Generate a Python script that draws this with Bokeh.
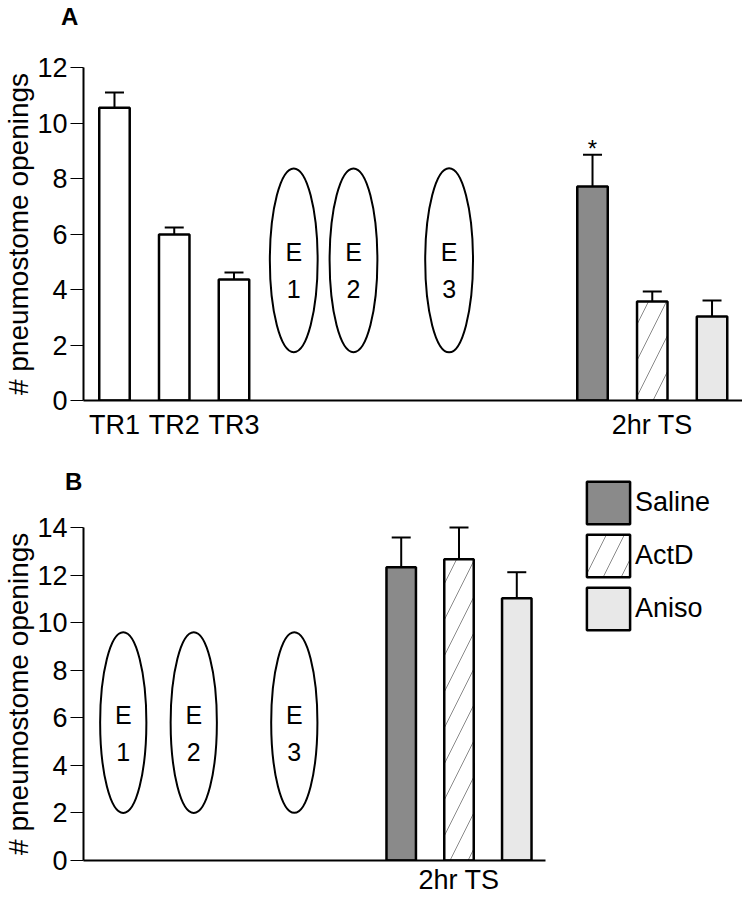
from bokeh.plotting import figure
from bokeh.models import (ColumnDataSource, Whisker, TeeHead, FixedTicker, Div,
                          Legend, LegendItem, Range1d)
from bokeh.layouts import column
from bokeh.embed import file_html
from bokeh.resources import INLINE
from bokeh.core.properties import value

FONT = "Liberation Sans"

# ---------------- data ----------------
# Panel A: training sessions
tr_labels = ["TR1", "TR2", "TR3"]
tr_pos = [0, 1, 2]
tr_mean = [10.55, 5.98, 4.36]
tr_sem = [0.55, 0.25, 0.25]

# treatment groups
groups = ["Saline", "ActD", "Aniso"]
group_fill = ["#8a8a8a", "#ffffff", "#e8e8e8"]
group_hatch = [" ", "/", " "]
ts_label = "2hr TS"

# Panel A: 2hr test session
a_ts_pos = [8, 9, 10]
a_ts_mean = [7.71, 3.57, 3.03]
a_ts_sem = [1.15, 0.36, 0.57]
a_sig = ["*", "", ""]

# Panel B: 2hr test session
b_ts_pos = [5, 6, 7]
b_ts_mean = [12.33, 12.66, 11.03]
b_ts_sem = [1.25, 1.34, 1.09]

# extinction sessions (ellipses)
e_letter = ["E", "E", "E"]
e_num = ["1", "2", "3"]
a_e_pos = [3, 4, 5.6]
b_e_pos = [0.19, 1.41, 3.15]

a_yticks = [0, 2, 4, 6, 8, 10, 12]
b_yticks = [0, 2, 4, 6, 8, 10, 12, 14]
ylabel = "# pneumostome openings"
panel_letters = ["A", "B"]

BAR_W = 0.51
BIG = "27px"
NBSP = "\u00a0"


def letter_div(letter, height, pad_top, pad_left):
    html = ('<div style="font-family:\'Liberation Sans\',Arial,sans-serif;font-size:24px;'
            'font-weight:bold;line-height:24px;color:#000;padding:%dpx 0 0 %dpx;">%s</div>'
            % (pad_top, pad_left, letter))
    return Div(text=html, width=742, height=height, margin=0, styles={"overflow": "visible"})


def base_fig(height, x_range, y_range, top, bottom):
    p = figure(width=742, height=height, x_range=x_range, y_range=y_range,
               output_backend="svg", toolbar_location=None,
               min_border_left=72, min_border_right=0,
               min_border_top=top, min_border_bottom=bottom)
    p.grid.visible = False
    p.outline_line_color = None
    return p


def style_axes(p, yticks, label):
    ya = p.yaxis[0]
    ya.ticker = FixedTicker(ticks=yticks)
    ya.bounds = (yticks[0], yticks[-1])
    ya.axis_label = label
    ya.axis_label_text_font = FONT
    ya.axis_label_text_font_size = "28px"
    ya.axis_label_text_font_style = "normal"
    ya.axis_label_text_color = "black"
    ya.axis_label_standoff = 0
    ya.major_label_text_font = FONT
    ya.major_label_text_font_size = BIG
    ya.major_label_text_color = "black"
    ya.major_label_standoff = 3
    ya.major_tick_out = 13
    ya.major_tick_in = 0
    ya.minor_tick_out = 0
    ya.minor_tick_in = 0
    ya.major_tick_line_width = 1.2
    ya.axis_line_width = 2
    xa = p.xaxis[0]
    xa.major_label_text_font = FONT
    xa.major_label_text_font_size = BIG
    xa.major_label_text_color = "black"
    xa.major_tick_out = 0
    xa.major_tick_in = 0
    xa.minor_tick_out = 0
    xa.minor_tick_in = 0
    xa.axis_line_width = 2


def add_bars(p, xs, means, sems, fills, hatches):
    src = ColumnDataSource(dict(x=xs, top=means, upper=[m + s for m, s in zip(means, sems)],
                                fill=fills, hatch=hatches))
    r = p.vbar(x="x", top="top", bottom=0, width=BAR_W, source=src,
               fill_color="fill", line_color="black", line_width=2.5,
               hatch_pattern="hatch", hatch_color="#8a8a8a", hatch_weight=1, hatch_scale=36)
    w = Whisker(source=src, base="x", lower="top", upper="upper",
                upper_head=TeeHead(size=19, line_width=2, line_color="black"),
                lower_head=None, line_width=2, line_color="black")
    p.add_layout(w)
    return r, src


def add_ellipses(p, xs, yc, h):
    p.ellipse(x=xs, y=[yc] * len(xs), width=0.8, height=h, fill_color=None,
              line_color="black", line_width=2)
    p.text(x=xs, y=[yc] * len(xs), text=e_letter, text_align="center", text_baseline="middle",
           y_offset=-8, text_font=value(FONT), text_font_size="25px", text_color="black")
    p.text(x=xs, y=[yc] * len(xs), text=e_num, text_align="center", text_baseline="middle",
           y_offset=29, text_font=value(FONT), text_font_size="25px", text_color="black")


# ---------------- Panel A ----------------
div_a = letter_div(panel_letters[0], 30, 5, 61)

pa = base_fig(420, Range1d(-0.5185, 10.51), Range1d(0, 12), top=37, bottom=50)
style_axes(pa, a_yticks, ylabel)
pa.xaxis.ticker = FixedTicker(ticks=tr_pos + [a_ts_pos[1]])
pa.xaxis.major_label_overrides = dict(zip(tr_pos + [a_ts_pos[1]], tr_labels + [ts_label]))
pa.xaxis.major_label_standoff = 9

add_bars(pa, tr_pos, tr_mean, tr_sem, ["#ffffff"] * 3, [" "] * 3)
_, a_src = add_bars(pa, a_ts_pos, a_ts_mean, a_ts_sem, group_fill, group_hatch)
pa.text(x=a_ts_pos, y=a_src.data["upper"], text=a_sig, text_align="center",
        text_baseline="alphabetic", y_offset=-6, text_font=value(FONT),
        text_font_size="24px", text_color="black")
add_ellipses(pa, a_e_pos, 5.05, 6.63)

# ---------------- Panel B ----------------
div_b = letter_div(panel_letters[1], 30, 20, 65)

b_x0 = -0.498
pb = base_fig(417, Range1d(b_x0, 10.906), Range1d(0, 15.976), top=0, bottom=37)
pb.border_fill_color = None
pb.background_fill_color = None
# frame reaches above the 0-14 axis (legend room); pad the label so it centres on the axis
style_axes(pb, b_yticks, ylabel + NBSP * 6)
pb.xaxis.bounds = (b_x0, 7.5)
pb.xaxis.ticker = FixedTicker(ticks=[b_ts_pos[1]])
pb.xaxis.major_label_overrides = {b_ts_pos[1]: ts_label}
pb.xaxis.major_label_standoff = 4

rb, _ = add_bars(pb, b_ts_pos, b_ts_mean, b_ts_sem, group_fill, group_hatch)
add_ellipses(pb, b_e_pos, 5.8, 7.6)

legend = Legend(items=[LegendItem(label=g, renderers=[rb], index=i) for i, g in enumerate(groups)],
                location=(498, 225), orientation="vertical",
                glyph_width=54, glyph_height=53, label_height=53, spacing=0,
                padding=0, margin=0, label_standoff=0,
                label_text_font=FONT, label_text_font_size=BIG, label_text_color="black",
                label_text_baseline="middle",
                border_line_color=None, background_fill_alpha=0)
pb.add_layout(legend)

layout = column(div_a, pa, div_b, pb, spacing=0)
open("out.html", "w").write(file_html(layout, INLINE))
